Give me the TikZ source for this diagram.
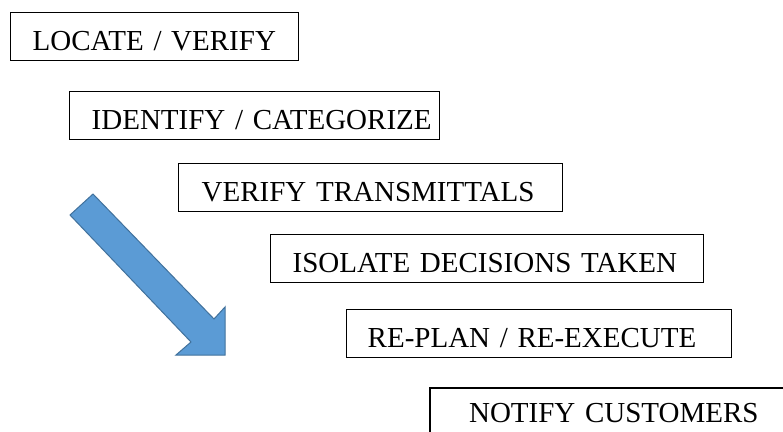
\documentclass[tikz,border=0pt]{standalone}
\usepackage{fontspec}
\setmainfont{Liberation Serif}
\definecolor{arrowfill}{HTML}{5B9BD5}
\definecolor{arrowline}{HTML}{41719C}
\begin{document}
\begin{tikzpicture}[x=1pt,y=-1pt,
  stage/.style={draw=black, line width=1.4pt, anchor=north west,
    inner xsep=0pt, inner ysep=0pt, align=left,
    text height=38pt, text depth=10pt,
    font=\fontsize{29}{34}\selectfont}]
\useasboundingbox (0,0) rectangle (783,431);
\clip (0,0) rectangle (783,431);

% process steps, stepping down to the right
\node[stage, text width=288pt] (locate) at (10,12) {\hspace*{22pt}LOCATE / VERIFY};
\node[stage, text width=370pt] (identify) at (69,91) {\hspace*{22pt}IDENTIFY / CATEGORIZE};
\node[stage, text width=384pt] (transmit) at (178,163) {\hspace*{23pt}VERIFY TRANSMITTALS};
\node[stage, text width=433pt] (isolate) at (270,234) {\hspace*{22pt}ISOLATE DECISIONS TAKEN};
\node[stage, text width=385pt] (replan) at (346,309) {\hspace*{21pt}RE-PLAN / RE-EXECUTE};
\node[stage, line width=2.2pt, text width=400pt, text height=34pt, text depth=26pt]
  (notify) at (429,387) {\hspace*{39pt}NOTIFY CUSTOMERS};

% block arrow pointing down-right
\draw[fill=arrowfill, draw=arrowline, line width=1pt, line join=miter]
  (93,194) -- (214,319) -- (225,307) -- (225,355) -- (176,355)
  -- (191,342) -- (70,215) -- cycle;
\end{tikzpicture}
\end{document}
